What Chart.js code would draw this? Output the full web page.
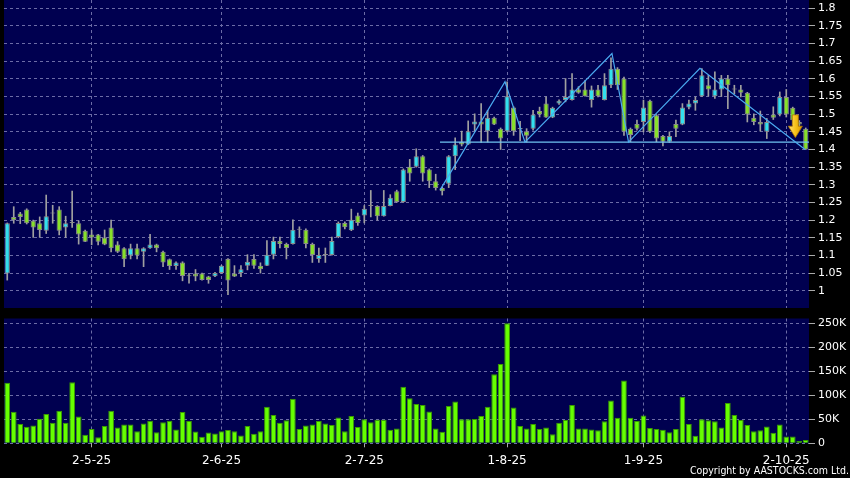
<!DOCTYPE html>
<html><head><meta charset="utf-8">
<script src="https://cdn.jsdelivr.net/npm/chart.js@4.4.1/dist/chart.umd.min.js"></script>
<style>
html,body{margin:0;padding:0;background:#000;width:850px;height:478px;overflow:hidden;}
#p{position:absolute;left:0;top:0;width:850px;height:310px;}
#v{position:absolute;left:0;top:310px;width:850px;height:168px;}
#copy{position:absolute;right:1px;top:464px;color:#fff;font:10.5px "DejaVu Sans Condensed","DejaVu Sans";line-height:12px;white-space:nowrap;}
</style></head><body>
<canvas id="p" width="850" height="310"></canvas>
<canvas id="v" width="850" height="168"></canvas>
<div id="copy">Copyright by AASTOCKS.com Ltd.</div>
<script>
const opens = [1.049,1.209,1.219,1.230,1.198,1.191,1.170,1.219,1.230,1.179,
1.192,1.191,1.170,1.159,1.159,1.151,1.179,1.131,1.120,1.100,
1.120,1.110,1.120,1.131,1.110,1.089,1.070,1.080,1.041,1.049,
1.049,1.040,1.041,1.050,1.090,1.049,1.050,1.071,1.090,1.071,
1.071,1.102,1.141,1.132,1.132,1.173,1.173,1.132,1.090,1.101,
1.101,1.152,1.192,1.171,1.213,1.213,1.240,1.240,1.211,1.240,
1.282,1.251,1.351,1.351,1.381,1.343,1.310,1.291,1.303,1.381,
1.422,1.414,1.471,1.479,1.452,1.490,1.459,1.452,1.519,1.460,
1.452,1.459,1.509,1.530,1.491,1.530,1.540,1.540,1.570,1.570,
1.540,1.570,1.540,1.582,1.629,1.601,1.459,1.472,1.478,1.538,
1.497,1.438,1.422,1.472,1.471,1.519,1.530,1.551,1.582,1.551,
1.570,1.601,1.570,1.570,1.561,1.490,1.478,1.450,1.499,1.499,
1.549,1.518,1.478,1.459];
const closes = [1.191,1.200,1.209,1.191,1.179,1.172,1.211,1.219,1.170,1.191,
1.192,1.159,1.139,1.151,1.139,1.131,1.120,1.110,1.089,1.120,
1.100,1.120,1.131,1.120,1.080,1.070,1.080,1.042,1.041,1.040,
1.030,1.030,1.050,1.071,1.029,1.040,1.061,1.082,1.071,1.061,
1.102,1.141,1.132,1.121,1.173,1.173,1.132,1.101,1.101,1.101,
1.141,1.192,1.180,1.201,1.192,1.232,1.240,1.211,1.240,1.263,
1.251,1.343,1.332,1.381,1.332,1.310,1.291,1.282,1.381,1.414,
1.414,1.452,1.479,1.471,1.490,1.471,1.431,1.551,1.452,1.458,
1.439,1.499,1.499,1.491,1.518,1.538,1.549,1.570,1.561,1.551,
1.570,1.551,1.582,1.629,1.582,1.450,1.441,1.459,1.519,1.450,
1.431,1.422,1.438,1.459,1.519,1.530,1.540,1.610,1.570,1.570,
1.601,1.582,1.570,1.561,1.499,1.478,1.471,1.478,1.490,1.549,
1.499,1.483,1.471,1.400];
const highs = [1.192,1.238,1.222,1.232,1.200,1.209,1.271,1.242,1.238,1.211,
1.282,1.198,1.172,1.172,1.160,1.172,1.200,1.139,1.122,1.132,
1.132,1.122,1.160,1.132,1.112,1.090,1.082,1.082,1.049,1.060,
1.050,1.041,1.052,1.072,1.091,1.071,1.071,1.102,1.102,1.079,
1.142,1.152,1.152,1.135,1.201,1.181,1.175,1.135,1.121,1.121,
1.152,1.195,1.195,1.231,1.220,1.241,1.284,1.241,1.284,1.272,
1.285,1.345,1.372,1.402,1.383,1.345,1.330,1.293,1.383,1.433,
1.452,1.481,1.501,1.530,1.511,1.492,1.461,1.592,1.521,1.480,
1.459,1.511,1.520,1.549,1.520,1.541,1.601,1.615,1.578,1.595,
1.580,1.582,1.615,1.660,1.632,1.605,1.461,1.483,1.540,1.540,
1.499,1.440,1.450,1.483,1.530,1.540,1.549,1.629,1.610,1.620,
1.610,1.610,1.582,1.582,1.562,1.501,1.509,1.488,1.521,1.563,
1.570,1.520,1.482,1.461];
const lows = [1.030,1.191,1.190,1.189,1.151,1.151,1.162,1.191,1.158,1.151,
1.179,1.132,1.139,1.130,1.130,1.130,1.110,1.108,1.068,1.090,
1.090,1.068,1.120,1.110,1.068,1.060,1.060,1.028,1.021,1.028,
1.030,1.021,1.040,1.049,0.989,1.040,1.040,1.059,1.063,1.050,
1.071,1.090,1.121,1.090,1.132,1.152,1.121,1.080,1.080,1.080,
1.101,1.150,1.175,1.170,1.185,1.192,1.209,1.200,1.211,1.240,
1.250,1.250,1.310,1.350,1.310,1.292,1.285,1.271,1.292,1.343,
1.410,1.414,1.452,1.420,1.421,1.470,1.400,1.450,1.440,1.425,
1.421,1.455,1.492,1.491,1.490,1.528,1.535,1.540,1.559,1.551,
1.520,1.549,1.540,1.575,1.570,1.440,1.422,1.455,1.450,1.448,
1.422,1.410,1.420,1.436,1.470,1.515,1.511,1.550,1.551,1.545,
1.550,1.516,1.558,1.549,1.478,1.470,1.452,1.431,1.485,1.495,
1.492,1.470,1.465,1.400];
const volumesK = [126,65.5,40,34.5,37,51,61,43,68,43,
127,56,17.6,30,12.7,36,67.6,33,39,39,
25,41,47,23,44,47,29,65,46.5,24.6,
13.4,22.5,20.4,25,27.5,25,16,36,20,25,
76,59,43,48,93,30,37,39,46.5,41.5,
38,54,25,57,34,50,44,49,49,28,
31,117.6,93.7,81.7,80,66,31,24,77.5,87,
50,50,50.7,57,76,144,165,250,74.6,36,
31,40,30,33,19,43,48.6,80,31,31,
29,27,46,89,53,131,53,46.5,58,32,
30,28,23,30,97,40,15.5,50,48,46,
33,84,59,48.6,38,25,27,35,22,39.4,
14,14,5,7];
const tickIdx = [13,33,55,77,98,120];
const tickLabels = ['2-5-25','2-6-25','2-7-25','1-8-25','1-9-25','2-10-25'];
const priceTicks = [1,1.05,1.1,1.15,1.2,1.25,1.3,1.35,1.4,1.45,1.5,1.55,1.6,1.65,1.7,1.75,1.8];
const volTicksK = [0,50,100,150,200,250];
// pattern line (candle index position, price)
const patternX = [66.66,76.67,79.75,93.15,95.7,106.7,122.9];
const patternY = [1.285,1.592,1.421,1.672,1.421,1.630,1.400];
const necklineX = [66.66,123.5];
const necklineY = [1.421,1.421];
const arrowAt = {x:121.4, top:1.498, headStart:1.466, tip:1.434};

const labels = opens.map((_, i) => i);
const NAVY = '#000050';
const GRID = '#6c6ca6';
const CYAN = '#33e0ee';
const GREEN = '#88e02a';

const bgPlugin = {id:'bg', beforeDraw(c){const {ctx,chartArea:a}=c;ctx.save();ctx.fillStyle=NAVY;ctx.fillRect(a.left,a.top,a.right-a.left,a.bottom-a.top);ctx.restore();}};

const overlayPlugin = {id:'overlay', afterDatasetsDraw(c){
  const xs=c.scales.x, ys=c.scales.y, ctx=c.ctx, a=c.chartArea;
  const x0=xs.getPixelForValue(0), step=xs.getPixelForValue(1)-x0;
  const px=v=>x0+v*step;
  ctx.save();
  ctx.beginPath();ctx.rect(a.left,a.top,a.right-a.left,a.bottom-a.top);ctx.clip();
  ctx.lineWidth=1.2;
  ctx.strokeStyle='#70c4f2';
  ctx.beginPath();
  necklineX.forEach((x,i)=>{const X=px(x),Y=ys.getPixelForValue(necklineY[i]); i?ctx.lineTo(X,Y):ctx.moveTo(X,Y);});
  ctx.stroke();
  ctx.strokeStyle='#4aaaf0';
  ctx.beginPath();
  patternX.forEach((x,i)=>{const X=px(x),Y=ys.getPixelForValue(patternY[i]); i?ctx.lineTo(X,Y):ctx.moveTo(X,Y);});
  ctx.stroke();
  // arrow
  const cx=px(arrowAt.x), yt=ys.getPixelForValue(arrowAt.top),
        yh=ys.getPixelForValue(arrowAt.headStart), yb=ys.getPixelForValue(arrowAt.tip);
  const g=ctx.createLinearGradient(cx-7,0,cx+7,0);
  g.addColorStop(0,'#ffe27a');g.addColorStop(0.5,'#f7c21a');g.addColorStop(1,'#d99a00');
  ctx.fillStyle=g;ctx.strokeStyle='#b07800';ctx.lineWidth=0.8;
  ctx.beginPath();
  ctx.moveTo(cx-3,yt);ctx.lineTo(cx+3,yt);ctx.lineTo(cx+3,yh);ctx.lineTo(cx+7,yh);
  ctx.lineTo(cx,yb);ctx.lineTo(cx-7,yh);ctx.lineTo(cx-3,yh);ctx.closePath();
  ctx.fill();ctx.stroke();
  ctx.restore();
}};

const bodyColors = opens.map((o,i)=> closes[i]>o ? CYAN : (closes[i]<o ? GREEN : '#a0a0a0'));
const fontY = {family:'DejaVu Sans', size:11};

new Chart(document.getElementById('p'), {
  type:'bar',
  data:{labels, datasets:[
    {label:'body', data:opens.map((o,i)=>[o,closes[i]]), backgroundColor:bodyColors, borderColor:'#8c8c8c', borderWidth:1, borderSkipped:false, barPercentage:0.8, categoryPercentage:1, grouped:false, order:1, minBarLength:1},
    {label:'wick', data:lows.map((l,i)=>[l,highs[i]]), backgroundColor:'#a0a0a0', barThickness:1, grouped:false, order:2}
  ]},
  options:{
    responsive:false, animation:false, devicePixelRatio:1,
    layout:{padding:{left:4,right:0,top:0,bottom:2}, autoPadding:false},
    plugins:{legend:{display:false}, tooltip:{enabled:false}},
    scales:{
      x:{type:'category', offset:true, grid:{offset:false, color:GRID, drawTicks:false}, border:{display:false, dash:[3,3]},
         ticks:{display:false, autoSkip:false},
         afterBuildTicks:s=>{s.ticks=tickIdx.map(v=>({value:v}));},
         afterFit:s=>{s.height=0;s.paddingLeft=0;s.paddingRight=0;}},
      y:{position:'right', min:0.951, max:1.8235,
         grid:{color:GRID, tickColor:'#aaaaaa', tickLength:6, tickBorderDash:[]}, border:{display:false, dash:[3,3]},
         ticks:{color:'#ffffff', font:fontY, padding:3, callback:v=>String(v)},
         afterBuildTicks:s=>{s.ticks=priceTicks.map(v=>({value:v}));},
         afterFit:s=>{s.width=41;s.paddingTop=0;s.paddingBottom=0;}}
    }
  },
  plugins:[bgPlugin, overlayPlugin]
});

new Chart(document.getElementById('v'), {
  type:'bar',
  data:{labels, datasets:[
    {label:'vol', data:volumesK, backgroundColor:'#66ff00', borderColor:'#3a9a00', borderWidth:1, barPercentage:0.88, categoryPercentage:1}
  ]},
  options:{
    responsive:false, animation:false, devicePixelRatio:1,
    layout:{padding:{left:4,right:0,top:8.5,bottom:0}, autoPadding:false},
    plugins:{legend:{display:false}, tooltip:{enabled:false}},
    scales:{
      x:{type:'category', offset:true, grid:{offset:false, color:GRID, tickColor:'#aaaaaa', tickLength:4, tickBorderDash:[]}, border:{display:false, dash:[3,3]},
         ticks:{color:'#ffffff', font:{family:'DejaVu Sans', size:12}, padding:6, autoSkip:false, maxRotation:0,
                callback:v=>tickLabels[tickIdx.indexOf(v)]},
         afterBuildTicks:s=>{s.ticks=tickIdx.map(v=>({value:v}));},
         afterFit:s=>{s.height=34.7;s.paddingLeft=0;s.paddingRight=0;}},
      y:{position:'right', min:0, max:260,
         grid:{color:GRID, tickColor:'#aaaaaa', tickLength:6, tickBorderDash:[]}, border:{display:false, dash:[3,3]},
         ticks:{color:'#ffffff', font:fontY, padding:3, callback:v=> v===0 ? '0' : v+'K'},
         afterBuildTicks:s=>{s.ticks=volTicksK.map(v=>({value:v}));},
         afterFit:s=>{s.width=41;s.paddingTop=0;s.paddingBottom=0;}}
    }
  },
  plugins:[bgPlugin]
});
</script>
</body></html>
